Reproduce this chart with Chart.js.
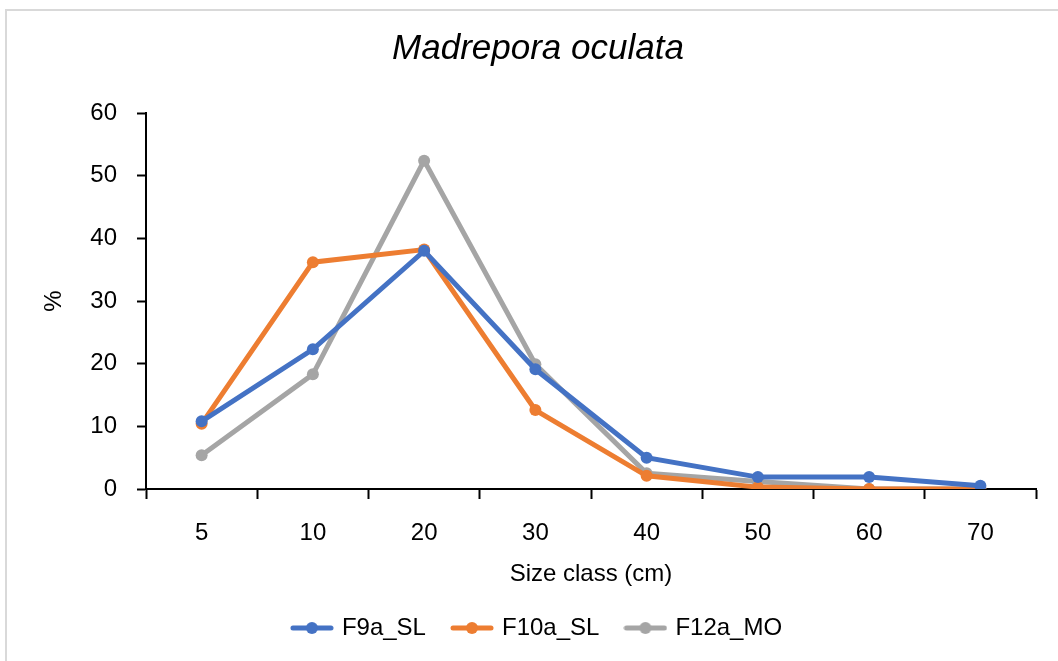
<!DOCTYPE html>
<html>
<head>
<meta charset="utf-8">
<script src="https://cdn.jsdelivr.net/npm/chart.js@4.4.0/dist/chart.umd.min.js"></script>
<style>
    html, body { margin: 0; padding: 0; background: #fff; }
    #wrap { position: relative; width: 1058px; height: 661px; }
    #frame { position: absolute; left: 5px; top: 9px; right: 0; bottom: 0; border-left: 2px solid #d9d9d9; border-top: 2px solid #d9d9d9; }
    #sizeChart { position: absolute; left: 0; top: 0; }
</style>
</head>
<body>
<div id="wrap">
    <div id="frame"></div>
    <canvas id="sizeChart" width="1058" height="661"></canvas>
</div>
<script>
const sizeClasses = ['5', '10', '20', '30', '40', '50', '60', '70'];
const f9aSL = [10.8, 22.3, 38.0, 19.1, 5.0, 1.9, 1.9, 0.5];
const f10aSL = [10.4, 36.2, 38.2, 12.6, 2.1, 0.3, 0, 0];
const f12aMO = [5.4, 18.3, 52.4, 19.9, 2.5, 1.2, 0, 0];
const yTicks = [0, 10, 20, 30, 40, 50, 60];

const blue = '#4472c4';
const orange = '#ed7d31';
const grey = '#a5a5a5';
const fontFamily = '"Liberation Sans", Arial, sans-serif';

// small line + dot image used as legend marker
function legendMarker(color) {
    const c = document.createElement('canvas');
    c.width = 44;
    c.height = 14;
    const g = c.getContext('2d');
    g.strokeStyle = color;
    g.lineWidth = 5;
    g.lineCap = 'round';
    g.beginPath();
    g.moveTo(3, 7);
    g.lineTo(41, 7);
    g.stroke();
    g.fillStyle = color;
    g.beginPath();
    g.arc(22, 7, 6, 0, Math.PI * 2);
    g.fill();
    return c;
}

function series(label, data, color) {
    return {
        label: label,
        data: data,
        borderColor: color,
        backgroundColor: color,
        borderWidth: 5,
        pointRadius: 6,
        pointHoverRadius: 6,
        pointBorderWidth: 0,
        fill: false,
        tension: 0,
        legendImg: legendMarker(color)
    };
}

const ctx = document.getElementById('sizeChart').getContext('2d');
new Chart(ctx, {
    type: 'line',
    data: {
        labels: sizeClasses,
        datasets: [
            series('F9a_SL', f9aSL, blue),
            series('F10a_SL', f10aSL, orange),
            series('F12a_MO', f12aMO, grey)
        ]
    },
    options: {
        responsive: false,
        animation: false,
        layout: {
            padding: { left: 40, right: 22, top: 0, bottom: 11 }
        },
        plugins: {
            title: {
                display: true,
                text: 'Madrepora oculata',
                color: '#000',
                font: { family: fontFamily, size: 35, style: 'italic', weight: 'normal', lineHeight: 1.2 },
                padding: { top: 28, bottom: 43 }
            },
            legend: {
                position: 'bottom',
                labels: {
                    color: '#000',
                    font: { family: fontFamily, size: 24 },
                    usePointStyle: true,
                    pointStyleWidth: 36,
                    padding: 28,
                    generateLabels: function (chart) {
                        return chart.data.datasets.map(function (ds, i) {
                            return {
                                text: ds.label,
                                pointStyle: ds.legendImg,
                                fillStyle: ds.borderColor,
                                strokeStyle: ds.borderColor,
                                lineWidth: 0,
                                fontColor: '#000',
                                hidden: false,
                                datasetIndex: i
                            };
                        });
                    }
                }
            },
            tooltip: { enabled: false }
        },
        scales: {
            x: {
                offset: true,
                afterFit: function (scale) { scale.height = 99; },
                grid: {
                    offset: true,
                    drawOnChartArea: false,
                    tickLength: 10,
                    tickColor: '#000',
                    tickWidth: 2
                },
                border: { color: '#000', width: 2 },
                ticks: {
                    color: '#000',
                    padding: 20,
                    font: { family: fontFamily, size: 24 }
                },
                title: {
                    display: true,
                    text: 'Size class (cm)',
                    color: '#000',
                    font: { family: fontFamily, size: 24 },
                    padding: { top: 0, bottom: -1 }
                }
            },
            y: {
                min: 0,
                max: 60,
                afterFit: function (scale) { scale.width = 106; },
                afterBuildTicks: function (scale) {
                    scale.ticks = yTicks.map(function (v) { return { value: v }; });
                },
                grid: {
                    drawOnChartArea: false,
                    tickLength: 9,
                    tickColor: '#000',
                    tickWidth: 2
                },
                border: { color: '#000', width: 2 },
                ticks: {
                    color: '#000',
                    padding: 20,
                    font: { family: fontFamily, size: 24 }
                },
                title: {
                    display: true,
                    text: '%',
                    color: '#000',
                    font: { family: fontFamily, size: 24 },
                    padding: 0
                }
            }
        }
    }
});
</script>
</body>
</html>
